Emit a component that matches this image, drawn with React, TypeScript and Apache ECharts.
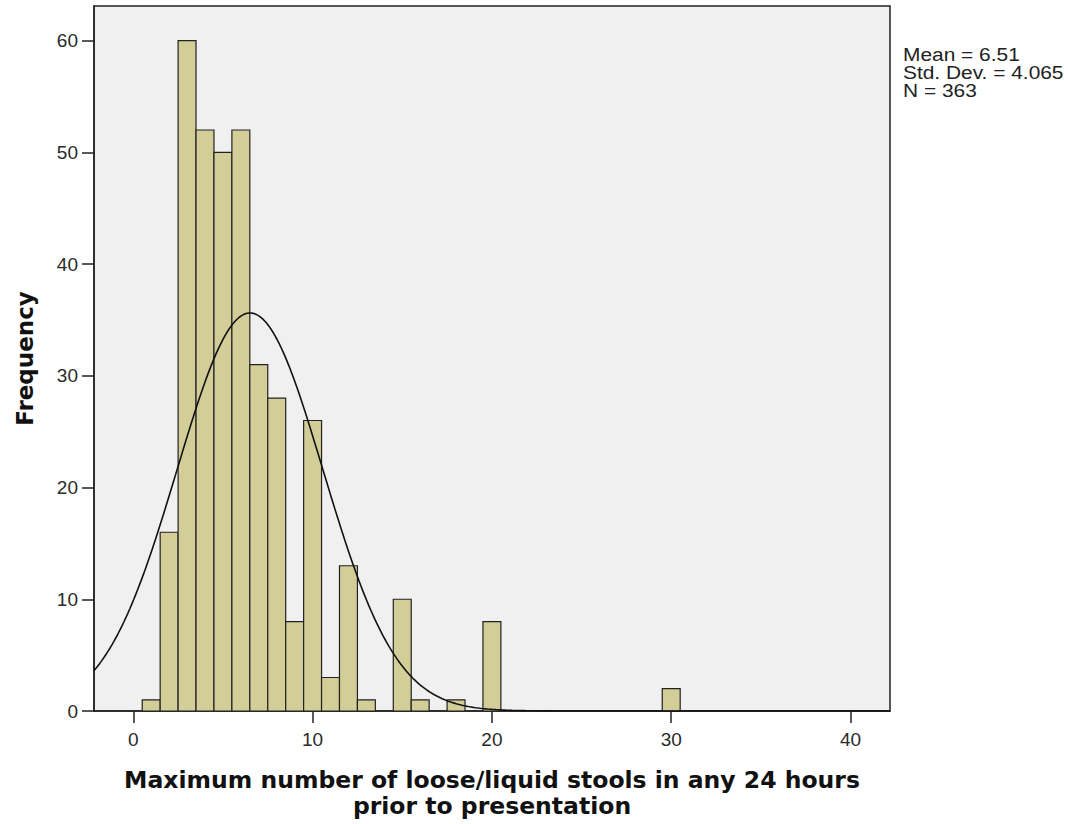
import React, { useEffect, useRef } from "react";
import * as echarts from "echarts";

// Histogram bins (centered on integer values, width 1)
const binCenters = [1, 2, 3, 4, 5, 6, 7, 8, 9, 10, 11, 12, 13, 15, 16, 18, 20, 30];
const frequencies = [1, 16, 60, 52, 50, 52, 31, 28, 8, 26, 3, 13, 1, 10, 1, 1, 8, 2];

// Summary statistics shown in the chart
const MEAN = 6.51;
const STD_DEV = 4.065;
const N = 363;
const BIN_WIDTH = 1;

const xTicks = [0, 10, 20, 30, 40];
const yTicks = [0, 10, 20, 30, 40, 50, 60];

const X_MIN = -2.19;
const X_MAX = 42.2;
const Y_MAX = 63.1;

const xTitle = "Maximum number of loose/liquid stools in any 24 hours\nprior to presentation";
const yTitle = "Frequency";
const statsLines = [`Mean = ${MEAN}`, `Std. Dev. = ${STD_DEV}`, `N = ${N}`];

// Fitted normal curve defined by the displayed Mean, Std. Dev. and N
function normalCurve(): [number, number][] {
  const pts: [number, number][] = [];
  const steps = 400;
  for (let i = 0; i <= steps; i++) {
    const x = X_MIN + ((X_MAX - X_MIN) * i) / steps;
    const z = (x - MEAN) / STD_DEV;
    const y = (N * BIN_WIDTH * Math.exp(-0.5 * z * z)) / (STD_DEV * Math.sqrt(2 * Math.PI));
    pts.push([x, y]);
  }
  return pts;
}

export default function App() {
  const ref = useRef<HTMLDivElement>(null);

  useEffect(() => {
    if (!ref.current) return;
    const chart = echarts.init(ref.current, undefined, { renderer: "svg" });
    const barData = binCenters.map((c, i) => [c, frequencies[i]]);
    const tickFont = {
      color: "#2a2a2a",
      fontFamily: "Liberation Sans",
      fontSize: 19,
    };
    chart.setOption({
      animation: false,
      backgroundColor: "#ffffff",
      grid: {
        left: 94,
        top: 6,
        width: 796,
        height: 707.5,
        show: true,
        backgroundColor: "#f0f0f0",
        borderColor: "#222",
        borderWidth: 1.5,
      },
      xAxis: {
        type: "value",
        min: X_MIN,
        max: X_MAX,
        splitLine: { show: false },
        axisLine: { show: true, onZero: false, lineStyle: { color: "#222", width: 1.5 } },
        axisTick: { show: true, customValues: xTicks, length: 12, lineStyle: { color: "#222", width: 1.5 } },
        axisLabel: { customValues: xTicks, margin: 19, ...tickFont },
        name: xTitle,
        nameLocation: "middle",
        nameGap: 56,
        nameTextStyle: {
          fontFamily: "DejaVu Sans",
          fontWeight: "bold",
          fontSize: 23.5,
          color: "#111",
          lineHeight: 26,
          align: "center",
        },
      },
      yAxis: {
        type: "value",
        min: 0,
        max: Y_MAX,
        splitLine: { show: false },
        axisLine: { show: true, onZero: false, lineStyle: { color: "#222", width: 1.5 } },
        axisTick: { show: true, customValues: yTicks, length: 12, lineStyle: { color: "#222", width: 1.5 } },
        axisLabel: { customValues: yTicks, margin: 16, ...tickFont },
        name: yTitle,
        nameLocation: "middle",
        nameRotate: 90,
        nameGap: 58,
        nameTextStyle: {
          fontFamily: "DejaVu Sans",
          fontWeight: "bold",
          fontSize: 23,
          color: "#111",
        },
      },
      series: [
        {
          type: "custom",
          data: barData,
          encode: { x: 0, y: 1 },
          z: 2,
          renderItem: (params: any, api: any) => {
            const c = api.value(0);
            const v = api.value(1);
            const p0 = api.coord([c - BIN_WIDTH / 2, v]);
            const p1 = api.coord([c + BIN_WIDTH / 2, 0]);
            return {
              type: "rect",
              shape: { x: p0[0], y: p0[1], width: p1[0] - p0[0], height: p1[1] - p0[1] },
              style: { fill: "#d3ce97", stroke: "#222", lineWidth: 1.2 },
            };
          },
        },
        {
          type: "line",
          data: normalCurve(),
          showSymbol: false,
          smooth: false,
          z: 3,
          lineStyle: { color: "#111", width: 1.6 },
        },
      ],
      graphic: [
        {
          type: "text",
          x: 903,
          y: 45,
          scaleX: 1.1,
          style: {
            text: statsLines.join("\n"),
            fontFamily: "Liberation Sans",
            fontSize: 19,
            lineHeight: 18,
            fill: "#222",
          },
        },
      ],
    });
    return () => chart.dispose();
  }, []);

  return (
    <div
      ref={ref}
      style={{ position: "fixed", left: 0, top: 0, width: "1069px", height: "824px" }}
    />
  );
}
